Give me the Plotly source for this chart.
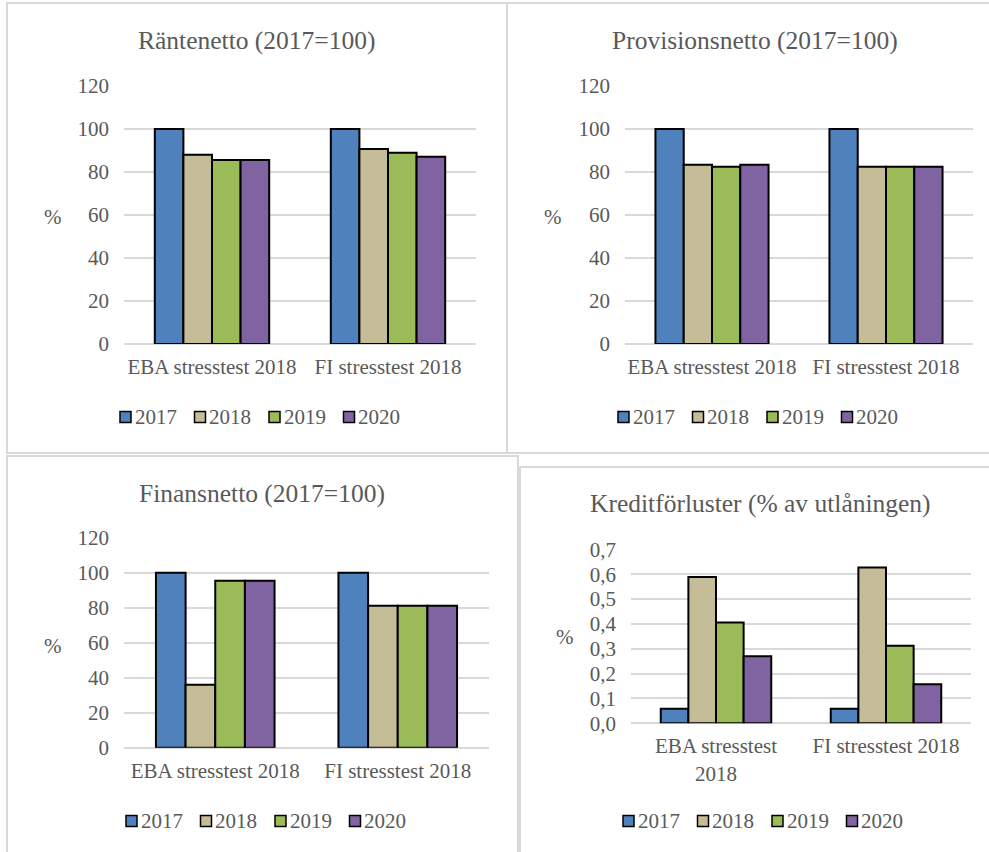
import plotly.graph_objects as go

W, H = 989, 852

series = ["2017", "2018", "2019", "2020"]
colors = ["#4F81BD", "#C4BD97", "#9BBB59", "#8064A2"]

categories = ["EBA stresstest 2018", "FI stresstest 2018"]
categories_wrapped = ["EBA stresstest<br>2018", "FI stresstest 2018"]

# values per series: [EBA, FI]
rante = {"2017": [100, 100], "2018": [88.0, 90.7], "2019": [85.6, 89.0], "2020": [85.6, 87.1]}
provision = {"2017": [100, 100], "2018": [83.4, 82.5], "2019": [82.5, 82.5], "2020": [83.4, 82.5]}
finans = {"2017": [100, 100], "2018": [36.0, 81.1], "2019": [95.4, 81.1], "2020": [95.4, 81.1]}
kredit = {"2017": [0.059, 0.059], "2018": [0.589, 0.627], "2019": [0.406, 0.312], "2020": [0.270, 0.157]}

titles = ["Räntenetto (2017=100)", "Provisionsnetto (2017=100)",
          "Finansnetto (2017=100)", "Kreditförluster (% av utlåningen)"]

FONT = "Liberation Serif"
GREY = "#595959"
GRID = "#D9D9D9"

def fx(px):
    return px / W

def fy(py):
    return 1 - py / H

# plot areas in pixels: (x0, x1, ytop, ybottom)
areas = [
    (124, 476, 86, 344),
    (625, 973, 86, 344),
    (124, 489, 537.7, 747.7),
    (631, 971, 549.3, 723.3),
]

panels = [(rante, categories), (provision, categories), (finans, categories), (kredit, categories_wrapped)]

fig = go.Figure()
for i, (data, cats) in enumerate(panels):
    ax = "" if i == 0 else str(i + 1)
    for s, c in zip(series, colors):
        fig.add_trace(go.Bar(
            x=cats, y=data[s], name=s,
            marker=dict(color=c, line=dict(color="black", width=2)),
            xaxis="x" + ax, yaxis="y" + ax, showlegend=False,
        ))

layout = dict(
    width=W, height=H,
    margin=dict(l=0, r=0, t=0, b=0, autoexpand=False),
    paper_bgcolor="white", plot_bgcolor="white",
    barmode="group", bargap=0.35, bargroupgap=0,
    separators=", ",
    font=dict(family=FONT, size=21, color=GREY),
    showlegend=False,
)

for i, (x0, x1, yt, yb) in enumerate(areas):
    ax = "" if i == 0 else str(i + 1)
    is_k = i == 3
    layout["xaxis" + ax] = dict(
        domain=[fx(x0), fx(x1)], anchor="y" + ax, automargin=False,
        showgrid=False, zeroline=False, showline=False, ticks="",
        tickfont=dict(family=FONT, size=21, color=GREY),
        ticklabelstandoff=8,
    )
    layout["yaxis" + ax] = dict(
        domain=[fy(yb), fy(yt)], anchor="x" + ax, automargin=False,
        range=[0, 0.7] if is_k else [0, 120],
        dtick=0.1 if is_k else 20,
        tickformat=".1f" if is_k else "d",
        showgrid=True, gridcolor=GRID, gridwidth=2,
        zeroline=True, zerolinecolor=GRID, zerolinewidth=2,
        showline=False, ticks="",
        tickfont=dict(family=FONT, size=21, color=GREY),
        ticklabelstandoff=14,
    )

fig.update_layout(**layout)

# legends (one per panel): square + year label
legend_pos = [(120, 416.5), (618, 416.5), (126, 820.5), (623, 820.5)]
step = 74.5
for (lx, ly) in legend_pos:
    for k, (s, c) in enumerate(zip(series, colors)):
        sx = lx + k * step
        fig.add_shape(type="rect", xref="paper", yref="paper",
                      x0=fx(sx), x1=fx(sx + 11), y0=fy(ly + 6), y1=fy(ly - 5),
                      fillcolor=c, line=dict(color="black", width=1.5))
        fig.add_annotation(text=s, x=fx(sx + 12.5), y=fy(ly), xref="paper", yref="paper",
                           showarrow=False, xanchor="left", yanchor="middle",
                           font=dict(family=FONT, size=21, color=GREY))

# titles
title_pos = [(256, 40), (755, 40), (262, 493), (760, 503)]
for t, (tx, ty) in zip(titles, title_pos):
    fig.add_annotation(text=t, x=fx(tx), y=fy(ty), xref="paper", yref="paper",
                       showarrow=False, xanchor="center", yanchor="middle",
                       font=dict(family=FONT, size=25.5, color=GREY))

# "%" axis labels
pct_pos = [(53, 217), (553, 217), (53, 646), (565, 637)]
for (px_, py_) in pct_pos:
    fig.add_annotation(text="%", x=fx(px_), y=fy(py_), xref="paper", yref="paper",
                       showarrow=False, xanchor="center", yanchor="middle",
                       font=dict(family=FONT, size=21, color=GREY))

# panel borders
borders = [(7, 3, 507, 453), (507, 3, 1000, 453), (7, 456, 518, 870), (520, 467, 1000, 870)]
for (bx0, by0, bx1, by1) in borders:
    fig.add_shape(type="rect", xref="paper", yref="paper",
                  x0=fx(bx0), y0=fy(by1), x1=fx(bx1), y1=fy(by0),
                  line=dict(color=GRID, width=2), fillcolor="rgba(0,0,0,0)", layer="below")

fig.write_html(
    "out.html",
    config={"displayModeBar": False},
    post_script="document.body.style.margin='0';document.documentElement.style.overflow='hidden';document.body.style.overflow='hidden';",
)
